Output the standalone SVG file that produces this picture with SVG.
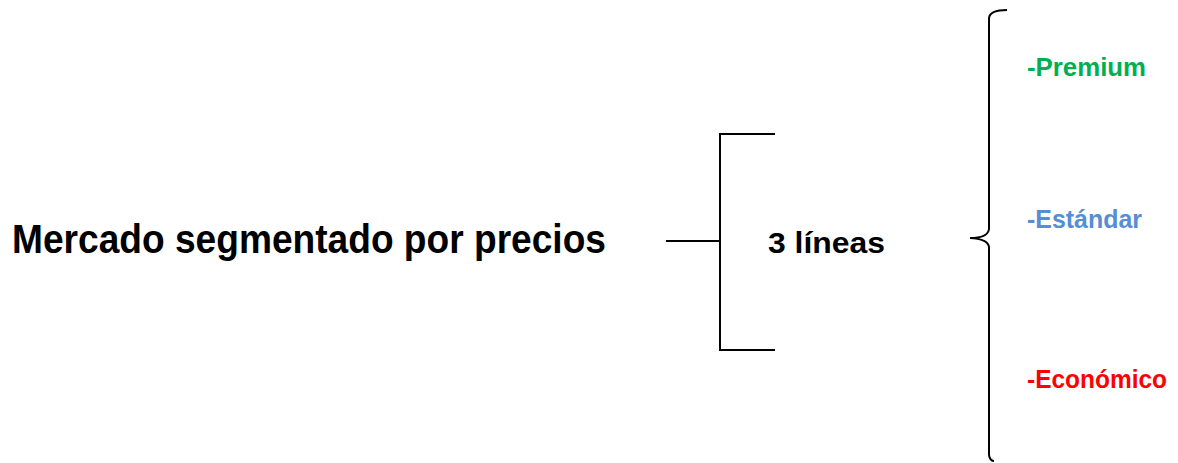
<svg xmlns="http://www.w3.org/2000/svg" width="1178" height="463" viewBox="0 0 1178 463">
<style>
.t{font-family:"Liberation Sans",Arial,sans-serif;font-weight:bold}
.ln{fill:none;stroke:#000;stroke-width:2}
</style>
<rect width="1178" height="463" fill="#fff"/>
<g id="mercado"><text class="t" x="12" y="253" font-size="40" textLength="594" lengthAdjust="spacingAndGlyphs">Mercado segmentado por precios</text></g>
<g id="lineas"><text class="t" x="768" y="253" font-size="29" textLength="117" lengthAdjust="spacingAndGlyphs">3 líneas</text></g>
<g id="premium"><text class="t" x="1027" y="76" font-size="25" fill="#00B050" textLength="119" lengthAdjust="spacingAndGlyphs">-Premium</text></g>
<g id="estandar"><text class="t" x="1027" y="228" font-size="25" fill="#558ED5" textLength="115" lengthAdjust="spacingAndGlyphs">-Estándar</text></g>
<g id="economico"><text class="t" x="1027" y="388" font-size="25" fill="#FF0000" textLength="140" lengthAdjust="spacingAndGlyphs">-Económico</text></g>
<g id="connectors">
<path class="ln" d="M666,241 H720 M775,134 H720 V350 H775"/>
<path class="ln" d="M1007,10 Q990,10 989,18 L989,229 Q988,238 970,238 Q988,239 989,247 L989,455 Q990,461 994,461"/>
</g>
</svg>
